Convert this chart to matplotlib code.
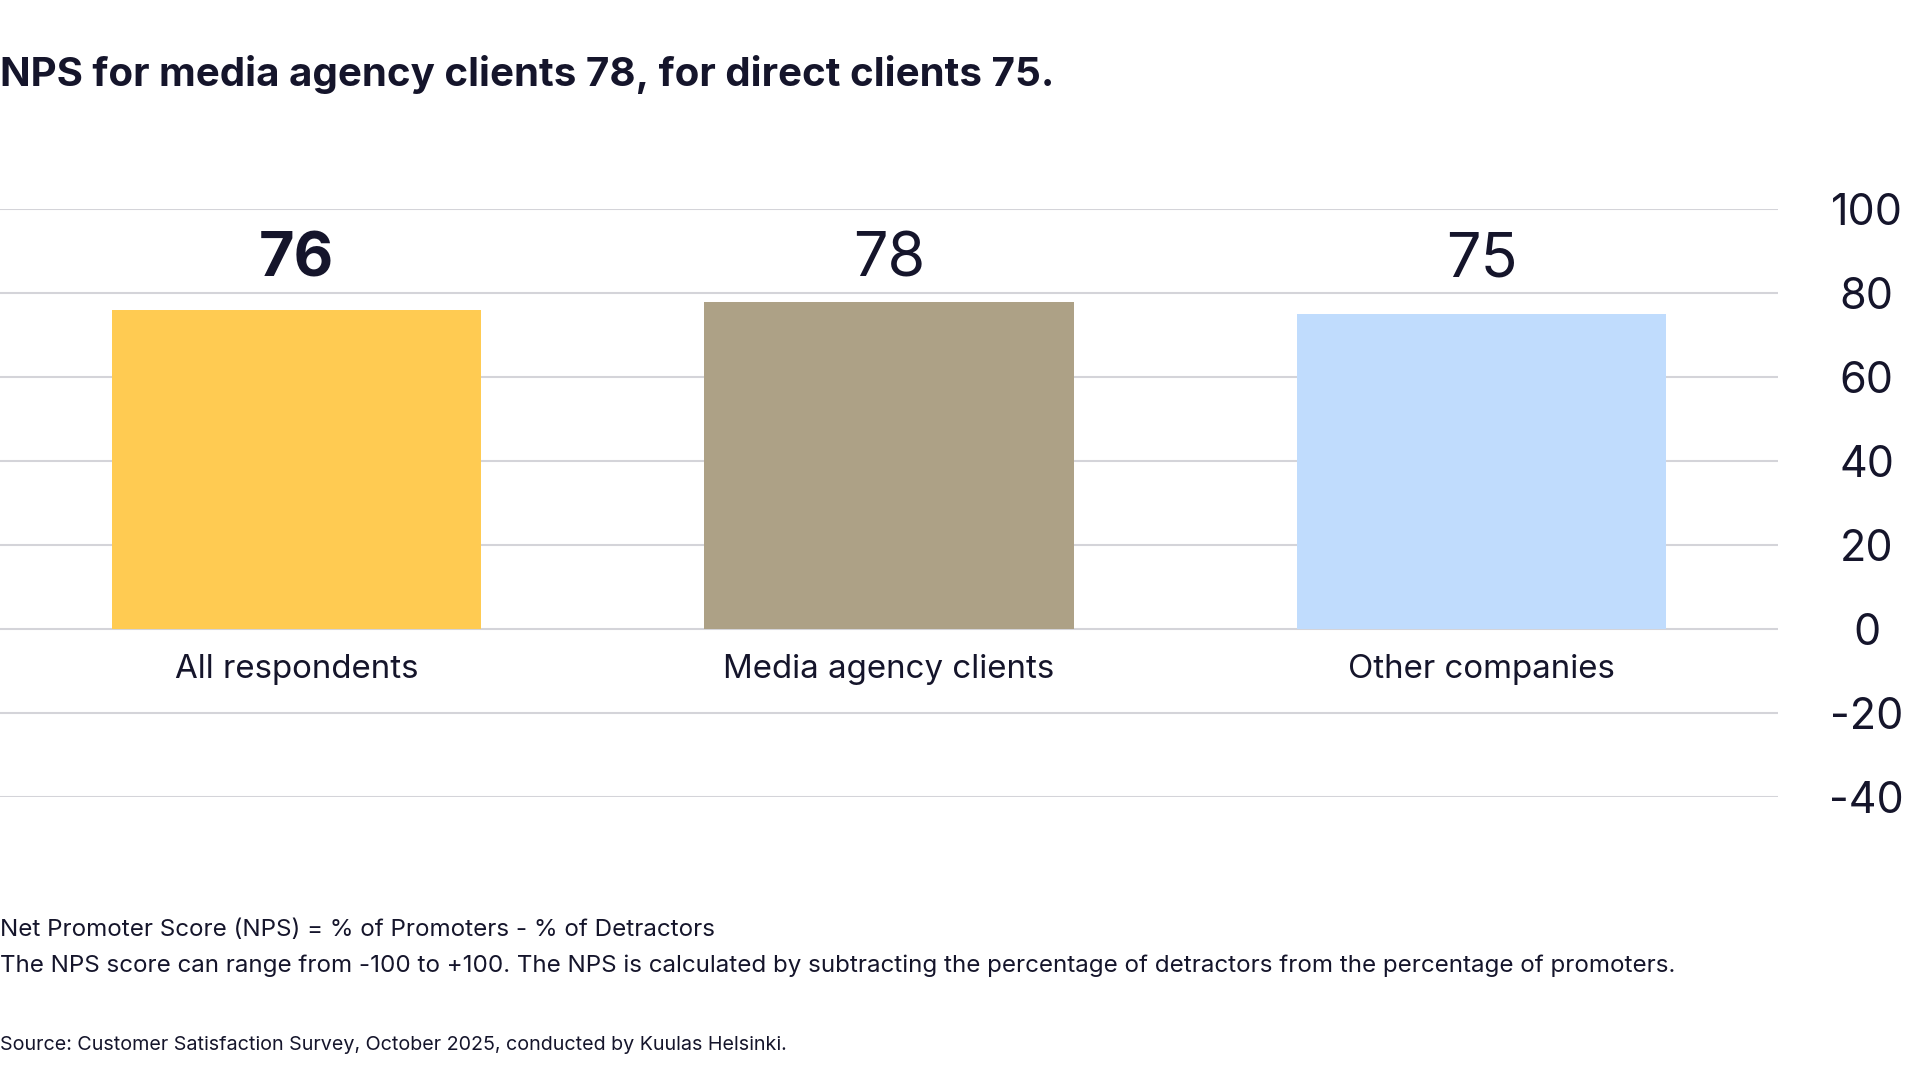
import matplotlib
matplotlib.use("Agg")
import matplotlib.pyplot as plt

categories = ["All respondents", "Media agency clients", "Other companies"]
values = [76, 78, 75]
value_bold = [True, False, False]
colors = ["#FFCB52", "#ADA186", "#C0DCFD"]
yticks = [-40, -20, 0, 20, 40, 60, 80, 100]

title = "NPS for media agency clients 78, for direct clients 75."
note1 = "Net Promoter Score (NPS) = % of Promoters - % of Detractors"
note2 = ("The NPS score can range from -100 to +100. The NPS is calculated by subtracting "
         "the percentage of detractors from the percentage of promoters.")
source = "Source: Customer Satisfaction Survey, October 2025, conducted by Kuulas Helsinki."

TXT = "#15152B"
plt.rcParams['font.family'] = ['Inter', 'DejaVu Sans']
plt.rcParams['axes.unicode_minus'] = False

fig = plt.figure(figsize=(19.2, 10.8), dpi=100)
ax = fig.add_axes([0.0, 0.2619, 0.926, 0.5442])

x = list(range(len(categories)))
ax.bar(x, values, width=0.623, color=colors, zorder=2)
ax.set_xlim(-0.5, 2.5)
ax.set_ylim(-40, 100)
ax.set_yticks(yticks)
ax.yaxis.tick_right()
ax.tick_params(axis='y', length=0, pad=64, labelsize=31, labelcolor=TXT)
for lab in ax.get_yticklabels():
    lab.set_horizontalalignment('center')
ax.set_xticks([])
ax.grid(axis='y', color='#D4D4D9', linewidth=1.5, zorder=0)
for s in ax.spines.values():
    s.set_visible(False)

for xi, v, b in zip(x, values, value_bold):
    ax.text(xi, 84, str(v), ha='center', va='baseline', fontsize=44,
            fontweight='bold' if b else 'normal', color=TXT)
for xi, c in zip(x, categories):
    ax.text(xi, -9.7, c, ha='center', va='center', fontsize=23.8, color=TXT)

fig.text(0.0, 1 - 75 / 1080, title, ha='left', va='center', fontsize=29,
         fontweight='bold', color=TXT)
fig.text(0.0, 1 - 930 / 1080, note1, ha='left', va='center', fontsize=17.4, color=TXT)
fig.text(0.0, 1 - 966 / 1080, note2, ha='left', va='center', fontsize=17.4, color=TXT)
fig.text(0.0, 1 - 1045 / 1080, source, ha='left', va='center', fontsize=14.2, color=TXT)

fig.savefig("out.png", dpi=100, facecolor="white")
